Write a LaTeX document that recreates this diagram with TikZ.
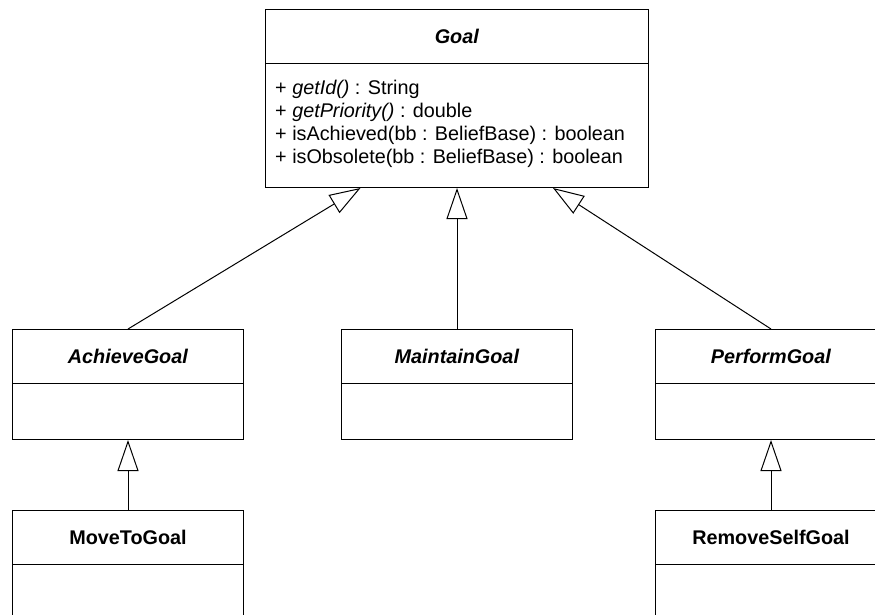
\documentclass[tikz,border=0pt]{standalone}
\usepackage{fontspec}
\setmainfont{Liberation Sans}
\usetikzlibrary{arrows.meta}
\begin{document}
\begin{tikzpicture}[x=1pt,y=-1pt,
  umltext/.style={font=\fontsize{19.8}{23}\selectfont, inner sep=0pt},
  classbox/.style={draw=black, line width=1pt, rectangle, inner sep=0pt,
    anchor=north west, minimum width=231pt, minimum height=110pt},
  classname/.style={umltext, anchor=base},
  operation/.style={umltext, anchor=base west},
  inherit/.style={line width=1pt, -{Triangle[open,length=31pt,width=21pt]}},
  divider/.style={line width=1pt}
]
\useasboundingbox (0,0) rectangle (875,614);
\clip (0,0) rectangle (875,614);

% class boxes
\node[classbox, minimum width=383pt, minimum height=178pt] (goal) at (265,9) {};
\node[classbox] (achieve) at (12,329) {};
\node[classbox] (maintain) at (341,329) {};
\node[classbox] (perform) at (655,329) {};
\node[classbox] (moveto) at (12,510) {};
\node[classbox] (removeself) at (655,510) {};

% name compartments
\foreach \c in {goal,achieve,maintain,perform,moveto,removeself}
  \draw[divider] ([yshift=-54.5pt]\c.north west) -- ([yshift=-54.5pt]\c.north east);

% class names
\node[classname] (goalname) at ([yshift=-34.5pt]goal.north) {\textbf{\textit{Goal}}};
\node[classname] (achievename) at ([yshift=-34.5pt]achieve.north) {\textbf{\textit{AchieveGoal}}};
\node[classname] (maintainname) at ([yshift=-34.5pt]maintain.north) {\textbf{\textit{MaintainGoal}}};
\node[classname] (performname) at ([yshift=-34.5pt]perform.north) {\textbf{\textit{PerformGoal}}};
\node[classname] (movetoname) at ([yshift=-34.5pt]moveto.north) {\textbf{MoveToGoal}};
\node[classname] (removeselfname) at ([yshift=-34.5pt]removeself.north) {\textbf{RemoveSelfGoal}};

% operations of Goal
\node[operation] (op1) at (275,94) {+ \textit{getId()} : String};
\node[operation] (op2) at (275,117) {+ \textit{getPriority()} : double};
\node[operation] (op3) at (275,140) {+ isAchieved(bb : BeliefBase) : boolean};
\node[operation] (op4) at (275,163) {+ isObsolete(bb : BeliefBase) : boolean};

% generalisation connectors
\coordinate (goalL) at ([xshift=-96.5pt]goal.south);
\coordinate (goalR) at ([xshift=96pt]goal.south);
\draw[inherit] (achieve.north) -- (goalL);
\draw[inherit] (maintain.north) -- (goal.south);
\draw[inherit] (perform.north) -- (goalR);
\draw[inherit] (moveto.north) -- (achieve.south);
\draw[inherit] (removeself.north) -- (perform.south);
\end{tikzpicture}
\end{document}
